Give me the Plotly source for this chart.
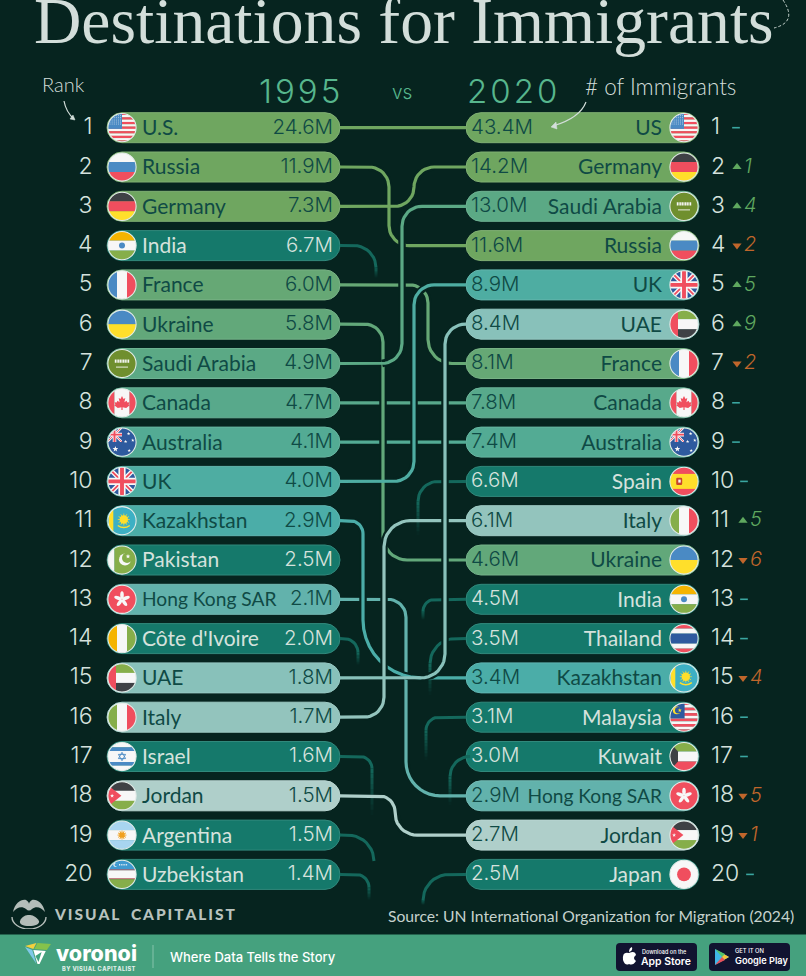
import base64, math
import plotly.graph_objects as go

# ---------- data ----------
ranks = list(range(1, 21))
names_1995 = ["U.S.", "Russia", "Germany", "India", "France", "Ukraine", "Saudi Arabia", "Canada", "Australia", "UK",
              "Kazakhstan", "Pakistan", "Hong Kong SAR", "Côte d'Ivoire", "UAE", "Italy", "Israel", "Jordan",
              "Argentina", "Uzbekistan"]
values_1995 = [24.6, 11.9, 7.3, 6.7, 6.0, 5.8, 4.9, 4.7, 4.1, 4.0, 2.9, 2.5, 2.1, 2.0, 1.8, 1.7, 1.6, 1.5, 1.5, 1.4]
names_2020 = ["US", "Germany", "Saudi Arabia", "Russia", "UK", "UAE", "France", "Canada", "Australia", "Spain",
              "Italy", "Ukraine", "India", "Thailand", "Kazakhstan", "Malaysia", "Kuwait", "Hong Kong SAR", "Jordan",
              "Japan"]
values_2020 = [43.4, 14.2, 13.0, 11.6, 8.9, 8.4, 8.1, 7.8, 7.4, 6.6, 6.1, 4.6, 4.5, 3.5, 3.4, 3.1, 3.0, 2.9, 2.7, 2.5]
rank_change = [0, 1, 4, -2, 5, 9, -2, 0, 0, 0, 5, -6, 0, 0, -4, 0, 0, -5, -1, 0]

# ---------- style ----------
BG = "#06241F"
DARK = "#15796B"
LINE_DARK = "#14685C"
TXT = "#D5E2DD"
INK = "#0F4A45"
country_colors = {
    "US": "#6FA660", "Russia": "#6FA660", "Germany": "#6FA660", "France": "#66A875", "Ukraine": "#62A87A",
    "Saudi Arabia": "#5BA985", "Canada": "#58A98B", "Australia": "#53AB94", "UK": "#4EADA2",
    "Kazakhstan": "#4BADA8", "Hong Kong SAR": "#62B2AC", "UAE": "#88C1BA", "Italy": "#93C4BD", "Jordan": "#AFCFCA",
}
R_, B_, NV, K_, Y_, G_, O_, W_ = "#F04E5E", "#4A8AC4", "#2E5A9E", "#3F4145", "#FFDF2B", "#86AE4A", "#F5B400", "#F7F7F7"


def key(n):
    return "US" if n == "U.S." else n


def col(n):
    return country_colors.get(key(n), DARK)


def mix(c, a=0.12):
    v = [int(c[i:i + 2], 16) for i in (1, 3, 5)]
    return "#%02x%02x%02x" % tuple(int(x + (255 - x) * a) for x in v)


# ---------- geometry: x axis in page px, y axis in rank units ----------
Y0, DY = 127.7, 39.3


def ry(p):
    return 1 + (p - Y0) / DY


def py(r):
    return Y0 + (r - 1) * DY


L0, L1, R0, R1 = 107, 340, 466, 699
BAR_H = 30

# ---------- flags ----------


def hs(*c):
    total = sum(x[1] for x in c)
    out, y = "", 0
    for cl, f in c:
        h = 100 * f / total
        out += f'<rect x="0" y="{y:.2f}" width="100" height="{h + .3:.2f}" fill="{cl}"/>'
        y += h
    return out


def vs(*c):
    total = sum(x[1] for x in c)
    out, x = "", 0
    for cl, f in c:
        w = 100 * f / total
        out += f'<rect x="{x:.2f}" y="0" width="{w + .3:.2f}" height="100" fill="{cl}"/>'
        x += w
    return out


def star(cx, cy, r, n=5, inner=0.42, fill=W_, rot=-90):
    p = []
    for i in range(2 * n):
        a = math.radians(rot + i * 180 / n)
        rr = r if i % 2 == 0 else r * inner
        p.append(f"{cx + rr * math.cos(a):.2f},{cy + rr * math.sin(a):.2f}")
    return f'<polygon points="{" ".join(p)}" fill="{fill}"/>'


def union(w=100, h=100):
    return (f'<rect width="{w}" height="{h}" fill="{NV}"/>'
            f'<path d="M0 0L{w} {h}M{w} 0L0 {h}" stroke="{W_}" stroke-width="{w * .15}"/>'
            f'<path d="M0 0L{w} {h}M{w} 0L0 {h}" stroke="{R_}" stroke-width="{w * .06}"/>'
            f'<path d="M{w / 2} 0V{h}M0 {h / 2}H{w}" stroke="{W_}" stroke-width="{w * .24}"/>'
            f'<path d="M{w / 2} 0V{h}M0 {h / 2}H{w}" stroke="{R_}" stroke-width="{w * .13}"/>')


us_stripes = hs(*[(R_ if i % 2 == 0 else W_, 1) for i in range(13)])
us_dots = "".join(f'<circle cx="{10 + 7 * i}" cy="{10 + 7 * j}" r="1.6" fill="{W_}"/>' for i in range(6) for j in range(5))
my_stripes = hs(*[(R_ if i % 2 == 0 else W_, 1) for i in range(11)])
hk_petals = "".join(
    f'<ellipse cx="50" cy="36" rx="6" ry="13" fill="{W_}" transform="rotate({a} 50 50)"/>' for a in range(0, 360, 72))
sun_ar = "".join(f'<path d="M50 50L50 35" stroke="#F0A020" stroke-width="3" transform="rotate({a} 50 50)"/>' for a in range(0, 360, 30))
sun_kz = "".join(f'<path d="M56 46L56 26" stroke="{Y_}" stroke-width="2.4" transform="rotate({a} 56 46)"/>' for a in range(0, 360, 30))
maple = ('<path d="M50 27L55 37L61 34L58 48L65 43L68 49L75 48L72 56L76 58L64 67L52 65V74H48V65L36 67L24 58L28 56L25 48'
         'L32 49L35 43L42 48L39 34L45 37Z" fill="%s"/>' % R_)

flags = {
    "US": us_stripes + f'<rect width="50" height="54" fill="{B_}"/>' + us_dots,
    "Russia": hs((W_, 1), (B_, 1), (R_, 1)),
    "Germany": hs((K_, 1), (R_, 1), (Y_, 1)),
    "India": hs((O_, 1), (W_, 1), (G_, 1)) + f'<circle cx="50" cy="50" r="10" fill="{B_}"/>',
    "France": vs((B_, 1), (W_, 1), (R_, 1)),
    "Ukraine": hs((B_, 1), (Y_, 1)),
    "Saudi Arabia": f'<rect width="100" height="100" fill="#6F8F2E"/>'
                    f'<path d="M26 42H74" stroke="{W_}" stroke-width="11" stroke-dasharray="4 1.5"/>'
                    f'<path d="M30 62H70" stroke="{W_}" stroke-width="3"/>',
    "Canada": vs((R_, 1), (W_, 2), (R_, 1)) + maple,
    "Australia": f'<rect width="100" height="100" fill="{NV}"/><svg x="0" y="0" width="50" height="50" viewBox="0 0 100 100">{union()}</svg>'
                 + star(28, 73, 10) + star(72, 22, 6) + star(86, 44, 6) + star(62, 48, 6) + star(74, 78, 6),
    "UK": union(),
    "Kazakhstan": f'<rect width="100" height="100" fill="#3DB0C4"/><rect x="6" width="15" height="100" fill="{Y_}"/>'
                  + sun_kz + f'<circle cx="56" cy="46" r="14" fill="{Y_}"/><path d="M36 66Q56 80 76 66" stroke="{Y_}" stroke-width="5" fill="none"/>',
    "Pakistan": vs((W_, 1), (G_, 3)) + f'<circle cx="60" cy="48" r="20" fill="{W_}"/><circle cx="67" cy="43" r="17" fill="{G_}"/>' + star(70, 38, 8),
    "Hong Kong SAR": f'<rect width="100" height="100" fill="{R_}"/>' + hk_petals,
    "Côte d'Ivoire": vs((O_, 1), (W_, 1), (G_, 1)),
    "UAE": hs((G_, 1), (W_, 1), (K_, 1)) + f'<rect width="30" height="100" fill="{R_}"/>',
    "Italy": vs((G_, 1), (W_, 1), (R_, 1)),
    "Israel": hs((W_, 1.6), (B_, 1), (W_, 3), (B_, 1), (W_, 1.6))
              + f'<path d="M50 36L62 57H38ZM50 64L38 43H62Z" fill="none" stroke="{B_}" stroke-width="3"/>',
    "Jordan": hs((K_, 1), (W_, 1), (G_, 1)) + f'<path d="M0 12L48 50L0 88Z" fill="{R_}"/>' + star(17, 50, 7),
    "Argentina": hs(("#A8D5F0", 1), (W_, 1), ("#A8D5F0", 1)) + sun_ar + '<circle cx="50" cy="50" r="9" fill="#F0A020"/>',
    "Uzbekistan": hs(("#3F9AD0", 10), (R_, 0.8), (W_, 8), (R_, 0.8), (G_, 10))
                  + f'<circle cx="28" cy="18" r="7" fill="{W_}"/><circle cx="31" cy="18" r="6" fill="#3F9AD0"/><path d="M40 18H70" stroke="{W_}" stroke-width="5" stroke-dasharray="3 3"/>',
    "Spain": hs((R_, 1), (Y_, 2), (R_, 1)) + f'<rect x="24" y="38" width="20" height="24" rx="4" fill="#C8452E"/><rect x="31" y="44" width="8" height="10" fill="{W_}"/>',
    "Thailand": hs((R_, 1), (W_, 1), (NV, 2), (W_, 1), (R_, 1)),
    "Malaysia": my_stripes + f'<rect width="52" height="54" fill="{NV}"/><circle cx="26" cy="27" r="13" fill="{Y_}"/><circle cx="31" cy="27" r="11" fill="{NV}"/>' + star(36, 27, 7, fill=Y_),
    "Kuwait": hs((G_, 1), (W_, 1), (R_, 1)) + f'<path d="M0 0L30 33V67L0 100Z" fill="{K_}"/>',
    "Japan": f'<rect width="100" height="100" fill="{W_}"/><circle cx="50" cy="50" r="23" fill="{R_}"/>',
}


def uri(svg):
    return "data:image/svg+xml;base64," + base64.b64encode(svg.encode()).decode()


def flag_uri(n):
    k = key(n)
    return uri(f'<svg xmlns="http://www.w3.org/2000/svg" width="120" height="120" viewBox="0 0 100 100">'
               f'<defs><clipPath id="c"><circle cx="50" cy="50" r="47"/></clipPath></defs>'
               f'<g clip-path="url(#c)">{flags[k]}</g>'
               f'<circle cx="50" cy="50" r="47" fill="none" stroke="#E4ECE9" stroke-width="3.5"/></svg>')


images = []
for r, n in zip(ranks, names_1995):
    images.append(dict(source=flag_uri(n), xref="x", yref="y", x=122, y=r, sizex=30, sizey=30 / DY,
                       xanchor="center", yanchor="middle", sizing="stretch", layer="above"))
for r, n in zip(ranks, names_2020):
    images.append(dict(source=flag_uri(n), xref="x", yref="y", x=684, y=r, sizex=30, sizey=30 / DY,
                       xanchor="center", yanchor="middle", sizing="stretch", layer="above"))

vc_logo = ('<svg xmlns="http://www.w3.org/2000/svg" width="120" height="90" viewBox="0 0 40 30">'
           '<path d="M3 18A17 12 0 1 0 37 18" fill="none" stroke="#B4BDB9" stroke-width="1.4"/>'
           '<path d="M4 13C6 4 12 0 17 1C19 2 20 4 20 5C20 4 21 2 23 1C28 0 34 4 36 13C32 8 27 7 23 10C21 12 19 12 17 10C13 7 8 8 4 13Z" fill="#B4BDB9"/>'
           '<path d="M11 22C13 17 17 16 20 16C23 16 27 17 30 22C31 25 26 27 20 27C14 27 10 25 11 22Z" fill="#B4BDB9"/></svg>')
vor_logo = ('<svg xmlns="http://www.w3.org/2000/svg" width="108" height="96" viewBox="0 0 27 24">'
            '<path d="M1 4L12 1L9 7Z" fill="#F3D03E"/><path d="M13 1L26 2L22 8L10 7Z" fill="#86C24B"/>'
            '<path d="M1 5L8 8L12 22Z" fill="#7FC8E8"/><path d="M9 8L21 9L15 22L13 22Z" fill="#FFFFFF"/>'
            '<path d="M11 14L17 10L14 20Z" fill="#3FA37D"/></svg>')
images.append(dict(source=uri(vc_logo), xref="x", yref="y", x=29, y=ry(914), sizex=40, sizey=30 / DY,
                   xanchor="center", yanchor="middle", sizing="stretch", layer="above"))
images.append(dict(source=uri(vor_logo), xref="x", yref="y", x=38, y=ry(954), sizex=28, sizey=24 / DY,
                   xanchor="center", yanchor="middle", sizing="stretch", layer="above"))

# ---------- connectors (lane positions are layout, not data) ----------


def arc(cx, cy, r, a0, a1, n=10):
    return [(cx + r * math.cos(math.radians(a0 + (a1 - a0) * i / n)),
             cy + r * math.sin(math.radians(a0 + (a1 - a0) * i / n))) for i in range(n + 1)]


def route(r1, r2, lane, c1, c2):
    y1, y2 = py(r1), py(r2)
    s = 1 if y2 > y1 else -1
    if r1 == r2:
        return [(L1, y1), (R0, y1)]
    pts = [(L1, y1)]
    pts += arc(lane - c1, y1 + s * c1, c1, -90 * s, 0)
    pts += arc(lane + c2, y2 - s * c2, c2, 180, 90 if s > 0 else 270)
    pts.append((R0, y2))
    return pts


connectors = [  # start rank, end rank, lane x, corner radius at start, at end, country
    (8, 8, 0, 0, 0, "Canada"),
    (9, 9, 0, 0, 0, "Australia"),
    (1, 1, 0, 0, 0, "US"),
    (13, 18, 406, 18, 34, "Hong Kong SAR"),
    (6, 12, 383, 18, 24, "Ukraine"),
    (2, 4, 389, 20, 20, "Russia"),
    (3, 2, 414, 19, 20, "Germany"),
    (5, 7, 428, 18, 24, "France"),
    (7, 3, 402, 20, 20, "Saudi Arabia"),
    (10, 5, 414, 20, 20, "UK"),
    (18, 19, 395, 16, 22, "Jordan"),
    (11, 15, 363, 13, 58, "Kazakhstan"),
    (16, 11, 384, 20, 26, "Italy"),
    (15, 6, 445, 24, 20, "UAE"),
]
stubs = [  # side, rank, lane x, corner radius, y where it has faded out (px)
    ("L", 4, 376, 22, 278), ("L", 14, 358, 14, 665), ("L", 17, 372, 12, 815), ("L", 19, 374, 26, 860),
    ("L", 20, 369, 13, 900),
    ("R", 10, 418, 20, 535), ("R", 13, 423, 12, 620), ("R", 14, 430, 25, 695), ("R", 16, 426, 13, 760),
    ("R", 17, 450, 20, 805), ("R", 20, 423, 26, 905),
]

fig = go.Figure()

# faded stubs
for side, r, lane, c, yend in stubs:
    y = py(r)
    if side == "L":
        pts = [(L1, y)] + arc(lane - c, y + c, c, -90, 0)
    else:
        pts = [(R0, y)] + arc(lane + c, y + c, c, -90, -180)
    ystart = pts[-1][1]
    steps = 9
    prev = pts[-1]
    fig.add_trace(go.Scatter(x=[p[0] for p in pts], y=[ry(p[1]) for p in pts], mode="lines",
                             line=dict(color=LINE_DARK, width=3), hoverinfo="skip"))
    for i in range(1, steps + 1):
        nxt = (lane, ystart + (yend - ystart) * i / steps)
        fig.add_trace(go.Scatter(x=[prev[0], nxt[0]], y=[ry(prev[1]), ry(nxt[1])], mode="lines",
                                 line=dict(color=LINE_DARK, width=3), opacity=max(0.03, 1 - (i - 0.5) / steps),
                                 hoverinfo="skip"))
        prev = nxt

# coloured connectors, each with a background halo so crossings break
for r1, r2, lane, c1, c2, name in connectors:
    pts = route(r1, r2, lane, c1, c2)
    xs = [p[0] for p in pts]
    ys = [ry(p[1]) for p in pts]
    fig.add_trace(go.Scatter(x=xs[1:-1] if r1 != r2 else xs, y=ys[1:-1] if r1 != r2 else ys, mode="lines",
                             line=dict(color=BG, width=7.5), hoverinfo="skip"))
    fig.add_trace(go.Scatter(x=xs, y=ys, mode="lines", line=dict(color=country_colors[name], width=3.2),
                             hoverinfo="skip"))

# bars
for names, base in ((names_1995, L0), (names_2020, R0)):
    cols = [col(n) for n in names]
    fig.add_trace(go.Bar(y=ranks, x=[(L1 - L0) if base == L0 else (R1 - R0)] * 20, base=base, orientation="h",
                         width=BAR_H / DY, marker=dict(color=cols, line=dict(color=[mix(c) for c in cols], width=1)),
                         hoverinfo="skip"))

# bar labels
vfont = "Inter"
nfont = "Lato"
name_y = [r + 0.055 for r in ranks]
val_y = [r + 0.02 for r in ranks]


def tcol(names):
    return [TXT if col(n) == DARK else INK for n in names]


def nsize(names):
    return [21 if n != "Hong Kong SAR" else 19.2 for n in names]


fig.add_trace(go.Scatter(x=[142] * 20, y=name_y, mode="text", text=names_1995, textposition="middle right",
                         textfont=dict(family=nfont, size=nsize(names_1995), color=tcol(names_1995)),
                         hoverinfo="skip"))
fig.add_trace(go.Scatter(x=[333] * 20, y=val_y, mode="text", text=[f"{v:.1f}M" for v in values_1995],
                         textposition="middle left",
                         textfont=dict(family=vfont, size=20.5, color=tcol(names_1995), weight=300), hoverinfo="skip"))
fig.add_trace(go.Scatter(x=[662] * 20, y=name_y, mode="text", text=names_2020, textposition="middle left",
                         textfont=dict(family=nfont, size=nsize(names_2020), color=tcol(names_2020)),
                         hoverinfo="skip"))
fig.add_trace(go.Scatter(x=[471] * 20, y=val_y, mode="text", text=[f"{v:.1f}M" for v in values_2020],
                         textposition="middle right",
                         textfont=dict(family=vfont, size=20.5, color=tcol(names_2020), weight=300), hoverinfo="skip"))

# ranks
fig.add_trace(go.Scatter(x=[92.5] * 20, y=val_y, mode="text", text=[str(r) for r in ranks], textposition="middle left",
                         textfont=dict(family=vfont, size=23, color=TXT, weight=300), hoverinfo="skip"))
fig.add_trace(go.Scatter(x=[711] * 20, y=val_y, mode="text", text=[str(r) for r in ranks], textposition="middle right",
                         textfont=dict(family=vfont, size=23, color=TXT, weight=300), hoverinfo="skip"))

# rank change markers
UP, DOWN, SAME = "#5FA85F", "#C0662B", "#3AA6A0"


def mark_x(r):
    return 737 if r < 10 else 743


same = [r for r, c in zip(ranks, rank_change) if c == 0]
fig.add_trace(go.Scatter(x=[736 if r < 10 else (750 if r == 20 else 744) for r in same], y=same, mode="markers",
                         marker=dict(symbol="line-ew", size=5.5, line=dict(color=SAME, width=1.6)), hoverinfo="skip"))
for cond, sym, c in ((lambda v: v > 0, "triangle-up", UP), (lambda v: v < 0, "triangle-down", DOWN)):
    rr = [r for r, v in zip(ranks, rank_change) if cond(v)]
    vv = [abs(v) for r, v in zip(ranks, rank_change) if cond(v)]
    fig.add_trace(go.Scatter(x=[mark_x(r) for r in rr], y=rr, mode="markers",
                             marker=dict(symbol=sym, size=8, color=c), hoverinfo="skip"))
    fig.add_trace(go.Scatter(x=[mark_x(r) + 7 for r in rr], y=[v + 0.02 for v in rr], mode="text",
                             text=[f"<i>{v}</i>" for v in vv],
                             textposition="middle right", textfont=dict(family=vfont, size=20, color=c, weight=300),
                             hoverinfo="skip"))

# ---------- free text ----------
ann = []


def T(x, yp, s, size, color=TXT, anchor="left", family="Lato", weight=400):
    ann.append(dict(x=x, y=ry(yp), xref="x", yref="y", text=s, showarrow=False, xanchor=anchor, yanchor="middle",
                    font=dict(family=family, size=size, color=color, weight=weight), align=anchor))


T(403.5, 21, "Destinations for Immigrants", 65.6, "#D3DEDA", "center", "Liberation Serif")
T(63, 84, "Rank", 20, "#D3DEDA", "center", "Lato", 300)
T(660, 86, "# of Immigrants", 22.5, "#D3DEDA", "center", "Lato", 300)
T(299, 91, "\u200a".join("1995"), 33, "#57B68D", "center", "Inter", 300)
T(511.5, 91, "\u200a".join("2020"), 33, "#57B68D", "center", "Inter", 300)
T(402, 92, "vs", 19, "#57B68D", "center", "Inter", 300)
T(796, 916, "Source: UN International Organization for Migration (2024)", 15.7, "#C5D2CD", "right")
T(52, 914, "\u2009".join("VISUAL") + "\u2003" + "\u2009".join("CAPITALIST"), 15.5, "#B8C2BE", "left", "Lato", 900)
T(54, 953, "voronoi", 21.5, "#FFFFFF", "left", "Inter", 800)
T(60, 969, "\u200a".join("BY VISUAL CAPITALIST"), 5.6, "#E0EEE8", "left", "Inter", 800)
T(168, 957, "Where Data Tells the Story", 13, "#FFFFFF", "left", "Inter", 500)
T(640, 951.5, "Download on the", 5.5, "#FFFFFF", "left", "Inter", 500)
T(639, 961, "App Store", 10.4, "#FFFFFF", "left", "Inter", 600)
T(733, 950.5, "GET IT ON", 5.8, "#FFFFFF", "left", "Inter", 500)
T(733, 960.5, "Google Play", 9.2, "#FFFFFF", "left", "Inter", 600)

# ---------- decoration shapes ----------


def P(*items):
    out = []
    for it in items:
        if isinstance(it, str):
            out.append(it)
        else:
            out.append(f"{it[0]:.2f},{ry(it[1]):.4f}")
    return " ".join(out)


def rrect(x0, y0, x1, y1, r):
    return P("M", (x0 + r, y0), "L", (x1 - r, y0), "Q", (x1, y0), (x1, y0 + r), "L", (x1, y1 - r), "Q", (x1, y1),
             (x1 - r, y1), "L", (x0 + r, y1), "Q", (x0, y1), (x0, y1 - r), "L", (x0, y0 + r), "Q", (x0, y0),
             (x0 + r, y0), "Z")


shapes = [
    dict(type="rect", xref="x", yref="y", x0=0, x1=806, y0=ry(934.5), y1=ry(976), fillcolor="#45A17E", line_width=0,
         layer="below"),
    dict(type="path", xref="x", yref="y", path=P("M", (153, 945), "L", (153, 968)), line=dict(color="#86C3AB", width=1)),
    dict(type="path", xref="x", yref="y", path=rrect(616, 943, 697, 971, 4), fillcolor="#111330", line_width=0),
    dict(type="path", xref="x", yref="y", path=rrect(709, 943, 790, 971, 4), fillcolor="#111330", line_width=0),
    # app icons
    dict(type="path", xref="x", yref="y",
         path=P("M", (629, 953), "Q", (635, 950), (636, 955), "Q", (632, 958), (636, 961), "Q", (633, 966), (629, 964),
                "Q", (625, 966), (623, 960), "Q", (622, 951), (629, 953), "Z"),
         fillcolor="#FFFFFF", line_width=0),
    dict(type="path", xref="x", yref="y", path=P("M", (629, 952), "Q", (629, 948), (632, 947), "Q", (633, 951), (629, 952), "Z"),
         fillcolor="#FFFFFF", line_width=0),
    dict(type="path", xref="x", yref="y", path=P("M", (715, 949), "L", (729, 957), "L", (715, 965), "Z"),
         fillcolor="#3FB6E8", line_width=0),
    dict(type="path", xref="x", yref="y", path=P("M", (722, 953), "L", (729, 957), "L", (722, 961), "Z"),
         fillcolor="#F5C33B", line_width=0),
    dict(type="path", xref="x", yref="y", path=P("M", (715, 965), "L", (722, 957), "L", (725, 960), "Z"),
         fillcolor="#E8505B", line_width=0),
    dict(type="path", xref="x", yref="y", path=P("M", (715, 949), "L", (722, 957), "L", (725, 954), "Z"),
         fillcolor="#55C26B", line_width=0),
    # Rank arrow
    dict(type="path", xref="x", yref="y", path=P("M", (64, 101), "Q", (66, 112), (74, 119)),
         line=dict(color="#D3DEDA", width=1.2)),
    dict(type="path", xref="x", yref="y", path=P("M", (75, 120), "L", (70, 119), "L", (73, 115), "Z"),
         fillcolor="#D3DEDA", line=dict(color="#D3DEDA", width=0.5)),
    # Immigrants arrow
    dict(type="path", xref="x", yref="y", path=P("M", (586, 102), "Q", (580, 118), (553, 126)),
         line=dict(color="#D3DEDA", width=1.2)),
    dict(type="path", xref="x", yref="y", path=P("M", (551, 127), "L", (556, 122), "L", (557, 129), "Z"),
         fillcolor="#D3DEDA", line=dict(color="#D3DEDA", width=0.5)),
    # dashed arc beside title
    dict(type="path", xref="x", yref="y", path=P("M", (783, 0), "Q", (798, 22), (774, 28)),
         line=dict(color="#C5D2CD", width=1, dash="3px,2px")),
]

fig.update_layout(
    width=806, height=976, margin=dict(l=0, r=0, t=0, b=0), showlegend=False, barmode="overlay", barcornerradius=15,
    paper_bgcolor=BG, plot_bgcolor=BG, hovermode=False,
    xaxis=dict(range=[0, 806], visible=False, fixedrange=True),
    yaxis=dict(range=[ry(976), ry(0)], visible=False, fixedrange=True),
    annotations=ann, shapes=shapes, images=images,
)
fig.write_html("out.html", config=dict(displayModeBar=False),
               post_script="document.body.style.margin='0';document.body.style.overflow='hidden';")
